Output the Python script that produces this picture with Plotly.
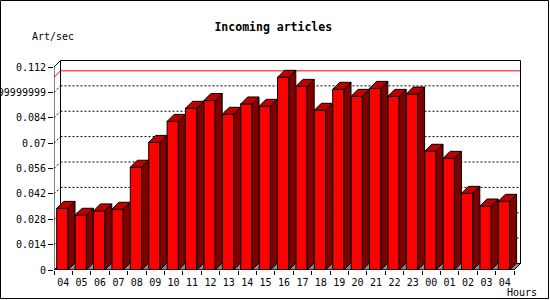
import plotly.graph_objects as go

# ---- data ----
hours = ["04", "05", "06", "07", "08", "09", "10", "11", "12", "13", "14", "15",
         "16", "17", "18", "19", "20", "21", "22", "23", "00", "01", "02", "03", "04"]
rates = [0.0340, 0.0302, 0.0326, 0.0335, 0.0567, 0.0704, 0.0820, 0.0892, 0.0935,
         0.0859, 0.0916, 0.0903, 0.1063, 0.1013, 0.0881, 0.0997, 0.0958, 0.1002,
         0.0958, 0.0971, 0.0655, 0.0616, 0.0423, 0.0353, 0.0379]
y_tick_vals = [0, 0.014, 0.028, 0.042, 0.056, 0.07, 0.084, 0.098, 0.112]
y_tick_text = ["0", "0.014", "0.028", "0.042", "0.056", "0.07", "0.084",
               "0.09799999999", "0.112"]
y_max = 0.112

# ---- geometry (pixels) ----
W, H = 550, 300
L, R_EDGE, T, B = 54, 523, 58, 270
PX_X = 18.4            # px per category slot
PX_Y = (B - 67) / y_max  # px per unit value
n = len(hours)
xr0 = -0.5
xr1 = -0.5 + (R_EDGE - L) / PX_X
yr1 = (B - T) / PX_Y

FRONT_OFF = -0.353
FRONT_W = 0.614
BAR_DX, BAR_DY = 7 / PX_X, 7 / PX_Y
WALL_DX, WALL_DY = 6.5 / PX_X, 6.5 / PX_Y
x_front_end = -0.5 + n
wall_right = x_front_end + WALL_DX

FONT = "DejaVu Sans Mono"

xs = list(range(n))

# side and top faces built from data
side_x, side_y, top_x, top_y = [], [], [], []
for i, v in zip(xs, rates):
    xl = i + FRONT_OFF
    xr = xl + FRONT_W
    side_x += [xr, xr + BAR_DX, xr + BAR_DX, xr, xr, None]
    side_y += [0, BAR_DY, v + BAR_DY, v, 0, None]
    top_x += [xl, xr, xr + BAR_DX, xl + BAR_DX, xl, None]
    top_y += [v, v, v + BAR_DY, v + BAR_DY, v, None]

fig = go.Figure()
fig.add_trace(go.Bar(x=xs, y=rates, offset=FRONT_OFF, width=FRONT_W,
                     marker=dict(color="#ff0000", line=dict(color="black", width=1)),
                     hoverinfo="skip", showlegend=False))
fig.add_trace(go.Scatter(x=side_x, y=side_y, mode="lines", fill="toself",
                         fillcolor="#800000", line=dict(color="black", width=1),
                         hoverinfo="skip", showlegend=False))
fig.add_trace(go.Scatter(x=top_x, y=top_y, mode="lines", fill="toself",
                         fillcolor="#c00000", line=dict(color="black", width=1),
                         hoverinfo="skip", showlegend=False))

shapes = []
# back wall
shapes.append(dict(type="rect", xref="x", yref="y", layer="below",
                   x0=xr0 + WALL_DX, x1=wall_right, y0=WALL_DY, y1=y_max + WALL_DY,
                   fillcolor="white", line=dict(color="black", width=1)))
# gridlines on back wall + depth connectors
for v in y_tick_vals[1:-1]:
    shapes.append(dict(type="line", xref="x", yref="y", layer="below",
                       x0=xr0 + WALL_DX, x1=wall_right, y0=v + WALL_DY, y1=v + WALL_DY,
                       line=dict(color="black", width=1, dash="2px,2px")))
    shapes.append(dict(type="line", xref="x", yref="y", layer="below",
                       x0=xr0, x1=xr0 + WALL_DX, y0=v, y1=v + WALL_DY,
                       line=dict(color="black", width=1, dash="2px,2px")))
# max line
vmax = max(rates)
shapes.append(dict(type="line", xref="x", yref="y", layer="below",
                   x0=xr0 + WALL_DX, x1=wall_right, y0=vmax + WALL_DY, y1=vmax + WALL_DY,
                   line=dict(color="#ff0000", width=1)))
shapes.append(dict(type="line", xref="x", yref="y", layer="below",
                   x0=xr0, x1=xr0 + WALL_DX, y0=vmax, y1=vmax + WALL_DY,
                   line=dict(color="#ff0000", width=1)))
# floor
shapes.append(dict(type="path", xref="x", yref="y", layer="below",
                   path=f"M {xr0},0 L {xr0 + WALL_DX},{WALL_DY} L {wall_right},{WALL_DY} L {x_front_end},0 Z",
                   fillcolor="#8c8c8c", line=dict(color="black", width=1)))
# front axes
shapes.append(dict(type="line", xref="x", yref="y", x0=xr0, x1=x_front_end, y0=0, y1=0,
                   line=dict(color="black", width=1)))
shapes.append(dict(type="line", xref="x", yref="y", x0=xr0, x1=xr0, y0=0, y1=y_max,
                   line=dict(color="black", width=1)))
shapes.append(dict(type="line", xref="x", yref="y", x0=xr0, x1=xr0 + WALL_DX,
                   y0=y_max, y1=y_max + WALL_DY, line=dict(color="black", width=1)))
shapes.append(dict(type="line", xref="x", yref="y", x0=x_front_end, x1=wall_right,
                   y0=0, y1=WALL_DY, line=dict(color="black", width=1)))
# outer frame
pw, ph = R_EDGE - L, B - T
def px2paper_x(px):
    return (px - L) / pw
def px2paper_y(py):
    return (B - py) / ph
shapes.append(dict(type="rect", xref="paper", yref="paper",
                   x0=px2paper_x(0.5), x1=px2paper_x(548.5),
                   y0=px2paper_y(298.5), y1=px2paper_y(0.5),
                   line=dict(color="black", width=1)))

annotations = [
    dict(text="Art/sec", xref="paper", yref="paper", x=px2paper_x(30), y=px2paper_y(37),
         xanchor="left", yanchor="middle", showarrow=False,
         font=dict(family=FONT, size=10, color="black")),
    dict(text="Hours", xref="paper", yref="paper", x=px2paper_x(505), y=px2paper_y(292),
         xanchor="left", yanchor="middle", showarrow=False,
         font=dict(family=FONT, size=10, color="black")),
]

fig.update_layout(
    width=W, height=H,
    margin=dict(l=L, r=W - R_EDGE, t=T, b=H - B, pad=0, autoexpand=False),
    paper_bgcolor="white", plot_bgcolor="white",
    title=dict(text="<b>Incoming articles</b>", x=273.3 / W, y=1 - 27 / H,
               xref="container", yref="container", xanchor="center", yanchor="middle",
               font=dict(family=FONT, size=11.5, color="black")),
    xaxis=dict(range=[xr0, xr1], tickvals=xs, ticktext=hours, ticks="outside",
               ticklen=3, tickcolor="rgba(0,0,0,0)", showgrid=False, zeroline=False,
               showline=False, tickangle=0, automargin=False,
               tickfont=dict(family=FONT, size=10, color="black"),
               minor=dict(tickvals=[i - 0.5 for i in range(n + 1)], ticks="outside",
                          ticklen=4, tickcolor="black", showgrid=False)),
    yaxis=dict(range=[0, yr1], tickvals=y_tick_vals, ticktext=y_tick_text,
               ticks="outside", ticklen=5, tickcolor="black", showgrid=False,
               zeroline=False, showline=False, automargin=False,
               tickfont=dict(family=FONT, size=10, color="black")),
    shapes=shapes, annotations=annotations, showlegend=False,
)

fig.write_html("out.html")
